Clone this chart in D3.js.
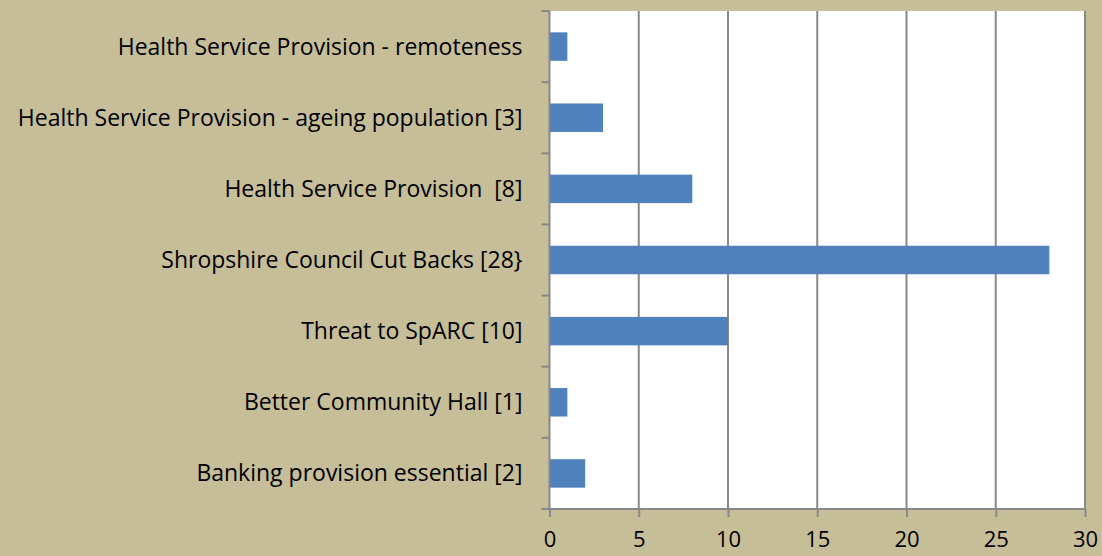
<!DOCTYPE html>
<html>
<head>
<meta charset="utf-8">
<script src="https://cdn.jsdelivr.net/npm/d3@7"></script>
<style>
  html, body { margin: 0; padding: 0; background: #c6bd99; }
  svg { display: block; }
  text { white-space: pre; }
</style>
</head>
<body>
<svg width="1102" height="556"></svg>
<script>
// categories, top to bottom
const categories = [
  "Health Service Provision - remoteness",
  "Health Service Provision - ageing population [3]",
  "Health Service Provision  [8]",
  "Shropshire Council Cut Backs [28}",
  "Threat to SpARC [10]",
  "Better Community Hall [1]",
  "Banking provision essential [2]"
];
const values = [1, 3, 8, 28, 10, 1, 2];
const xTicks = [0, 5, 10, 15, 20, 25, 30];

const data = categories.map((c, i) => ({ name: c, value: values[i] }));

const svg = d3.select("svg");
const margin = { top: 11, right: 17, bottom: 47, left: 549.5 };
const width = 1102 - margin.left - margin.right;
const height = 556 - margin.top - margin.bottom;
const font = "'Open Sans', 'Noto Sans', sans-serif";

const g = svg.append("g")
  .attr("transform", `translate(${margin.left},${margin.top})`);

const x = d3.scaleLinear().domain([0, 30]).range([0, width]);
const y = d3.scaleBand().domain(categories).range([0, height])
  .paddingInner(0.6).paddingOuter(0.3);

// plot area
g.append("rect")
  .attr("width", width).attr("height", height)
  .attr("fill", "#fff");

// gridlines
g.selectAll(".grid")
  .data(xTicks.slice(1))
  .enter().append("line")
  .attr("class", "grid")
  .attr("x1", d => x(d)).attr("x2", d => x(d))
  .attr("y1", 0).attr("y2", height)
  .attr("stroke", "#888").attr("stroke-width", 2);

// bars
g.selectAll(".bar")
  .data(data)
  .enter().append("rect")
  .attr("class", "bar")
  .attr("x", x(0))
  .attr("y", d => y(d.name))
  .attr("width", d => x(d.value) - x(0))
  .attr("height", y.bandwidth())
  .attr("fill", "#4f81bd");

// x axis
const xAxis = g.append("g")
  .attr("transform", `translate(0,${height})`)
  .call(d3.axisBottom(x).tickValues(xTicks).tickSize(8).tickPadding(14));
xAxis.select(".domain").attr("stroke", "#888").attr("stroke-width", 2)
  .attr("d", `M-8,0H${width}`);
xAxis.selectAll(".tick line").attr("stroke", "#888").attr("stroke-width", 2);
xAxis.selectAll("text")
  .attr("fill", "#000")
  .style("font-family", font)
  .style("font-size", "22px");

// y axis: ticks at category boundaries
const boundaries = d3.range(categories.length + 1).map(i => i * height / categories.length);
g.append("line")
  .attr("x1", 0).attr("x2", 0).attr("y1", 0).attr("y2", height)
  .attr("stroke", "#888").attr("stroke-width", 2);
g.selectAll(".ytick")
  .data(boundaries)
  .enter().append("line")
  .attr("class", "ytick")
  .attr("x1", -8).attr("x2", 0)
  .attr("y1", d => d).attr("y2", d => d)
  .attr("stroke", "#888").attr("stroke-width", 2);

g.selectAll(".ylabel")
  .data(categories)
  .enter().append("text")
  .attr("class", "ylabel")
  .attr("x", -27)
  .attr("y", d => y(d) + y.bandwidth() / 2)
  .attr("dy", "0.35em")
  .attr("text-anchor", "end")
  .style("font-family", font)
  .style("font-size", "23px")
  .attr("fill", "#000")
  .text(d => d);
</script>
</body>
</html>
